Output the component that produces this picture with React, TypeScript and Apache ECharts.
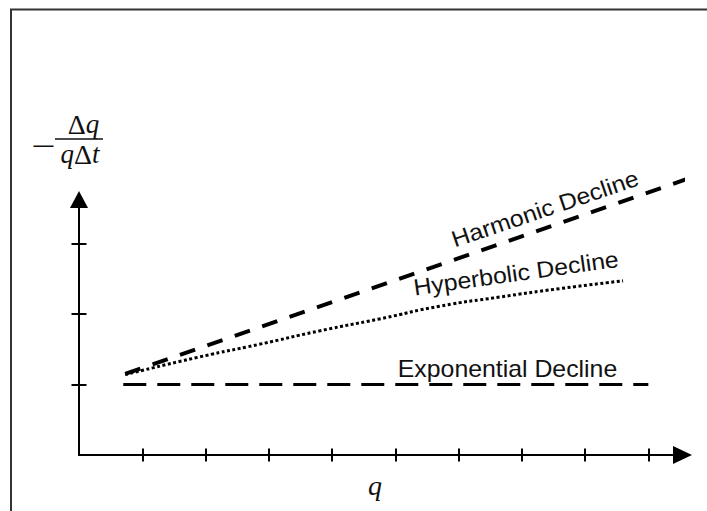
import React, { useEffect, useRef } from "react";
import * as echarts from "echarts";

// Schematic data (axis units: one tick = 1)
const xTicks = [1, 2, 3, 4, 5, 6, 7, 8, 9];
const yTicks = [1, 2, 3];
const exponentialX = [0.7, 9.0];
const exponentialY = [1.0, 1.0];
const harmonicX = [0.73, 9.66];
const harmonicY = [1.15, 3.93];
const hyperbolicX = [0.73, 1.9, 2.85, 3.8, 4.75, 5.7, 6.65, 7.6, 8.6];
const hyperbolicY = [1.14, 1.39, 1.57, 1.76, 1.93, 2.11, 2.24, 2.36, 2.47];
const labels = {
  harmonic: "Harmonic Decline",
  hyperbolic: "Hyperbolic Decline",
  exponential: "Exponential Decline",
};

const zip = (xs: number[], ys: number[]) => xs.map((x, i) => [x, ys[i]]);

const SANS = "'Liberation Sans', Arial, Helvetica, sans-serif";
const SERIF = "'Liberation Serif', 'Times New Roman', serif";

export default function App() {
  const ref = useRef<HTMLDivElement>(null);
  useEffect(() => {
    if (!ref.current) return;
    const chart = echarts.init(ref.current, null, { renderer: "svg" });
    const deg = (d: number) => (d * Math.PI) / 180;
    const hiddenAxisCommon = {
      type: "value" as const,
      splitLine: { show: false },
      axisLabel: { show: false },
    };
    chart.setOption({
      animation: false,
      backgroundColor: "#ffffff",
      grid: { left: 79, top: 199.5, right: 24.5, bottom: 56 },
      xAxis: [
        {
          ...hiddenAxisCommon,
          min: 0,
          max: 9.54,
          axisLine: {
            show: true,
            symbol: ["none", "triangle"],
            symbolSize: [18, 19],
            lineStyle: { color: "#000", width: 2 },
          },
          axisTick: { show: false },
        },
        {
          ...hiddenAxisCommon,
          min: 0,
          max: 9.54,
          position: "bottom",
          offset: -6.5,
          axisLine: { show: false },
          axisTick: {
            show: true,
            length: 13,
            customValues: xTicks,
            lineStyle: { color: "#000", width: 2 },
          },
        },
      ],
      yAxis: [
        {
          ...hiddenAxisCommon,
          min: 0,
          max: 3.624,
          axisLine: {
            show: true,
            symbol: ["none", "triangle"],
            symbolSize: [18, 17],
            lineStyle: { color: "#000", width: 2 },
          },
          axisTick: { show: false },
        },
        {
          ...hiddenAxisCommon,
          min: 0,
          max: 3.624,
          position: "left",
          offset: -7.5,
          axisLine: { show: false },
          axisTick: {
            show: true,
            length: 15,
            customValues: yTicks,
            lineStyle: { color: "#000", width: 2 },
          },
        },
      ],
      series: [
        {
          type: "line",
          name: labels.exponential,
          data: zip(exponentialX, exponentialY),
          symbol: "none",
          silent: true,
          clip: false,
          lineStyle: { color: "#000", width: 3, type: [23, 11] },
        },
        {
          type: "line",
          name: labels.harmonic,
          data: zip(harmonicX, harmonicY),
          symbol: "none",
          silent: true,
          clip: false,
          lineStyle: { color: "#000", width: 4, type: [16, 13] },
        },
        {
          type: "line",
          name: labels.hyperbolic,
          data: zip(hyperbolicX, hyperbolicY),
          symbol: "none",
          smooth: 0.6,
          silent: true,
          clip: false,
          lineStyle: { color: "#000", width: 3, type: [3, 2.5] },
        },
      ],
      graphic: [
        {
          type: "rect",
          silent: true,
          shape: { x: 11, y: 9.5, width: 720, height: 520 },
          style: { fill: "none", stroke: "#333", lineWidth: 2 },
        },
        {
          type: "text",
          x: 545,
          y: 208.5,
          rotation: deg(18.7),
          scaleX: 1.08,
          style: {
            text: labels.harmonic,
            fontFamily: SANS,
            fontSize: 23,
            fill: "#111",
            align: "center",
            verticalAlign: "middle",
          },
        },
        {
          type: "text",
          x: 516,
          y: 273,
          rotation: deg(8),
          scaleX: 1.08,
          style: {
            text: labels.hyperbolic,
            fontFamily: SANS,
            fontSize: 23,
            fill: "#111",
            align: "center",
            verticalAlign: "middle",
          },
        },
        {
          type: "text",
          x: 507.5,
          y: 369,
          scaleX: 1.08,
          style: {
            text: labels.exponential,
            fontFamily: SANS,
            fontSize: 23,
            fill: "#111",
            align: "center",
            verticalAlign: "middle",
          },
        },
        {
          type: "text",
          x: 375,
          y: 485,
          style: {
            text: "q",
            fontFamily: SERIF,
            fontStyle: "italic",
            fontSize: 28,
            fill: "#111",
            align: "center",
            verticalAlign: "middle",
          },
        },
        {
          type: "text",
          x: 43.5,
          y: 146,
          scaleX: 1.6,
          style: {
            text: "−",
            fontFamily: SERIF,
            fontSize: 27,
            fill: "#111",
            align: "center",
            verticalAlign: "middle",
          },
        },
        {
          type: "line",
          silent: true,
          shape: { x1: 55, y1: 139, x2: 103, y2: 139 },
          style: { stroke: "#111", lineWidth: 1.5 },
        },
        {
          type: "text",
          x: 83.5,
          y: 124,
          style: {
            text: "{a|Δ}{b|q}",
            fontFamily: SERIF,
            fontSize: 27,
            fill: "#111",
            align: "center",
            verticalAlign: "middle",
            rich: {
              a: { fontFamily: SERIF, fontSize: 28, fontStyle: "normal", fill: "#111" },
              b: { fontFamily: SERIF, fontSize: 27, fontStyle: "italic", fill: "#111" },
            },
          },
        },
        {
          type: "text",
          x: 80,
          y: 154,
          style: {
            text: "{b|q}{a|Δ}{b|t}",
            fontFamily: SERIF,
            fontSize: 27,
            fill: "#111",
            align: "center",
            verticalAlign: "middle",
            rich: {
              a: { fontFamily: SERIF, fontSize: 28, fontStyle: "normal", fill: "#111" },
              b: { fontFamily: SERIF, fontSize: 27, fontStyle: "italic", fill: "#111" },
            },
          },
        },
      ],
    });
    return () => chart.dispose();
  }, []);
  return (
    <div
      ref={ref}
      style={{
        position: "absolute",
        left: 0,
        top: 0,
        width: 707,
        height: 511,
        background: "#fff",
      }}
    />
  );
}
